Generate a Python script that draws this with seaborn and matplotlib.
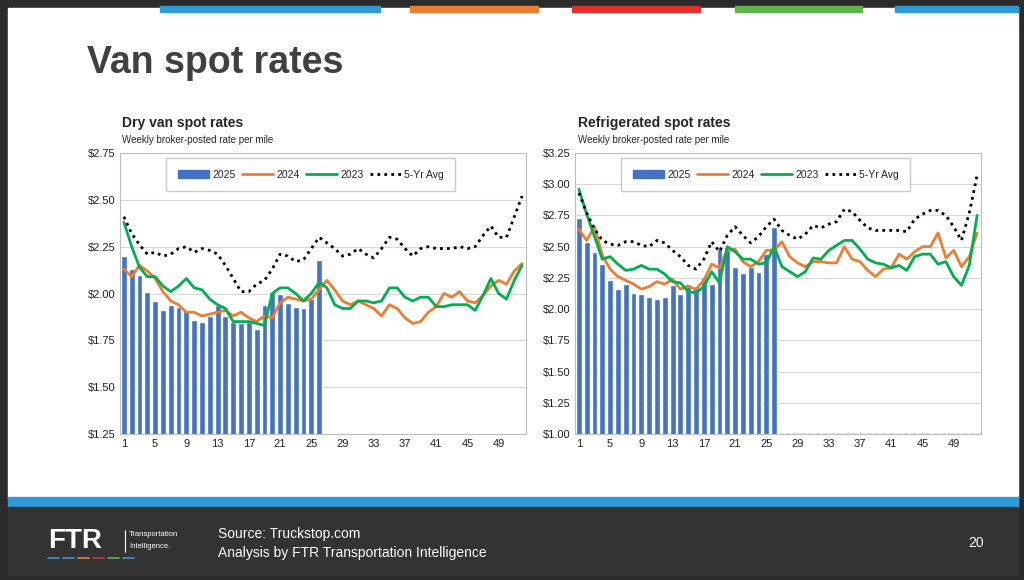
import numpy as np
import pandas as pd
import matplotlib
matplotlib.use("Agg")
import matplotlib.pyplot as plt
import seaborn as sns
from matplotlib.patches import Rectangle
from matplotlib.lines import Line2D
from matplotlib.ticker import FuncFormatter

weeks = list(range(1, 53))
tick_weeks = list(range(1, 53, 4))

# Dry van
dry_2025 = [2.20, 2.13, 2.10, 2.01, 1.96, 1.91, 1.94, 1.93, 1.91, 1.86, 1.85, 1.88, 1.94,
            1.88, 1.85, 1.84, 1.85, 1.81, 1.94, 2.01, 2.00, 1.95, 1.93, 1.92, 1.97, 2.18]
dry_2024 = [2.13, 2.09, 2.15, 2.12, 2.08, 2.01, 1.96, 1.94, 1.90, 1.90, 1.88, 1.89, 1.90,
            1.91, 1.88, 1.90, 1.87, 1.85, 1.88, 1.87, 1.95, 1.98, 1.97, 1.96, 1.97, 2.02,
            2.07, 2.02, 1.96, 1.94, 1.96, 1.94, 1.92, 1.88, 1.94, 1.92, 1.87, 1.84, 1.85,
            1.90, 1.93, 2.00, 1.98, 2.01, 1.96, 1.95, 1.99, 2.04, 2.07, 2.05, 2.12, 2.16]
dry_2023 = [2.38, 2.25, 2.14, 2.09, 2.09, 2.04, 2.01, 2.04, 2.08, 2.03, 2.02, 1.97, 1.94,
            1.92, 1.85, 1.85, 1.85, 1.84, 1.83, 2.00, 2.03, 2.03, 2.00, 1.96, 2.00, 2.06,
            2.03, 1.94, 1.92, 1.92, 1.96, 1.96, 1.95, 1.96, 2.03, 2.03, 1.98, 1.96, 1.98,
            1.98, 1.93, 1.93, 1.94, 1.94, 1.94, 1.91, 1.99, 2.08, 2.00, 1.97, 2.07, 2.15]
dry_5yr = [2.41, 2.32, 2.26, 2.21, 2.22, 2.20, 2.21, 2.24, 2.25, 2.22, 2.24, 2.23, 2.21,
           2.15, 2.08, 2.01, 2.01, 2.05, 2.07, 2.13, 2.21, 2.20, 2.17, 2.18, 2.24, 2.30,
           2.27, 2.24, 2.20, 2.21, 2.24, 2.21, 2.19, 2.24, 2.30, 2.29, 2.24, 2.20, 2.24,
           2.25, 2.24, 2.24, 2.24, 2.25, 2.24, 2.25, 2.31, 2.36, 2.30, 2.30, 2.41, 2.52]

# Refrigerated
ref_2025 = [2.73, 2.54, 2.46, 2.36, 2.23, 2.16, 2.20, 2.13, 2.12, 2.10, 2.08, 2.10, 2.19,
            2.12, 2.20, 2.18, 2.26, 2.20, 2.48, 2.50, 2.34, 2.29, 2.34, 2.30, 2.44, 2.66]
ref_2024 = [2.64, 2.55, 2.66, 2.43, 2.32, 2.26, 2.23, 2.20, 2.16, 2.18, 2.22, 2.20, 2.24,
            2.16, 2.18, 2.16, 2.23, 2.36, 2.33, 2.47, 2.48, 2.38, 2.34, 2.38, 2.47, 2.47,
            2.54, 2.42, 2.37, 2.34, 2.38, 2.38, 2.37, 2.37, 2.50, 2.40, 2.38, 2.31, 2.26,
            2.32, 2.33, 2.44, 2.40, 2.46, 2.50, 2.50, 2.61, 2.41, 2.47, 2.34, 2.42, 2.61]
ref_2023 = [2.96, 2.76, 2.58, 2.40, 2.42, 2.36, 2.31, 2.32, 2.35, 2.32, 2.32, 2.28, 2.22,
            2.21, 2.14, 2.13, 2.18, 2.30, 2.21, 2.50, 2.46, 2.40, 2.40, 2.36, 2.37, 2.50,
            2.34, 2.30, 2.26, 2.30, 2.41, 2.40, 2.47, 2.51, 2.55, 2.55, 2.48, 2.40, 2.37,
            2.36, 2.33, 2.35, 2.31, 2.42, 2.44, 2.44, 2.36, 2.38, 2.26, 2.19, 2.35, 2.75]
ref_5yr = [2.93, 2.77, 2.64, 2.55, 2.52, 2.51, 2.54, 2.54, 2.51, 2.50, 2.55, 2.53, 2.47,
           2.42, 2.35, 2.32, 2.40, 2.54, 2.46, 2.59, 2.66, 2.59, 2.53, 2.58, 2.66, 2.72,
           2.63, 2.59, 2.56, 2.60, 2.67, 2.65, 2.68, 2.70, 2.80, 2.78, 2.71, 2.65, 2.63,
           2.63, 2.63, 2.63, 2.62, 2.72, 2.76, 2.79, 2.79, 2.75, 2.66, 2.55, 2.77, 3.07]

sns.set_style("white")
plt.rcParams['font.family'] = ['Liberation Sans', 'DejaVu Sans']

W, H = 1024, 580
fig = plt.figure(figsize=(W / 100, H / 100), dpi=100)
fig.patch.set_facecolor("#2b2b2b")

def px(x0, y0, x1, y1):
    return [x0 / W, 1 - y1 / H, (x1 - x0) / W, (y1 - y0) / H]

bg = fig.add_axes([0, 0, 1, 1]); bg.axis("off")
bg.set_xlim(0, W); bg.set_ylim(H, 0)
bg.add_patch(Rectangle((8, 8), 1010, 490, color="white"))
for x0, x1, c in [(160, 380, "#2e9bd6"), (410, 538, "#ed7d31"), (572, 700, "#e0302a"),
                  (735, 862, "#5cb44a"), (895, 1018, "#2e9bd6")]:
    bg.add_patch(Rectangle((x0, 6), x1 - x0, 6, color=c))
bg.add_patch(Rectangle((8, 497), 1010, 10, color="#2e9bd6"))
bg.add_patch(Rectangle((8, 507), 1010, 68, color="#333333"))
bg.text(87, 63, "Van spot rates", fontsize=27, fontweight="bold", color="#404040", va="center")
bg.text(48, 541, "FTR", fontsize=20, fontweight="bold", color="white", va="center")
bg.plot([125, 125], [530, 552], color="white", lw=0.8)
bg.text(129, 535, "Transportation", fontsize=5.5, color="white", va="center")
bg.text(129, 546, "Intelligence.", fontsize=5.5, color="white", va="center")
for i, c in enumerate(["#2e9bd6", "#2e9bd6", "#ed7d31", "#e0302a", "#5cb44a", "#2e9bd6"]):
    bg.plot([48 + i * 15, 59 + i * 15], [558, 558], color=c, lw=1.2)
bg.text(218, 534, "Source: Truckstop.com", fontsize=10, color="white", va="center")
bg.text(218, 553, "Analysis by FTR Transportation Intelligence", fontsize=10, color="white", va="center")
bg.text(968, 543, "20", fontsize=10, color="white", va="center")

def panel(box, title, title_xy, bars, s24, s23, s5, ylim, dashed_base=False):
    ax = fig.add_axes(px(*box))
    sns.barplot(x=weeks[:len(bars)], y=bars, native_scale=True, color="#4472c4",
                width=0.75, ax=ax, saturation=1)
    sns.lineplot(x=weeks, y=s24, color="#ed7d31", lw=2, ax=ax)
    sns.lineplot(x=weeks, y=s23, color="#00b050", lw=2, ax=ax)
    sns.lineplot(x=weeks, y=s5, color="black", lw=2, ax=ax, linestyle=(0, (1, 1.5)))
    if dashed_base:
        ax.plot([len(bars) + 0.5, 52.5], [ylim[0], ylim[0]], color="#4472c4", lw=1, ls="--")
    ax.set_xlim(0.5, 52.5)
    ax.set_ylim(*ylim)
    ax.set_yticks(np.arange(ylim[0], ylim[1] + 0.01, 0.25))
    ax.yaxis.set_major_formatter(FuncFormatter(lambda v, p: f"${v:.2f}"))
    ax.set_xticks(tick_weeks)
    ax.tick_params(labelsize=8, length=0, labelcolor="#222222")
    ax.grid(axis="y", color="#d9d9d9", lw=0.8)
    ax.set_axisbelow(True)
    for s in ax.spines.values():
        s.set_color("#bfbfbf"); s.set_linewidth(0.8)
    handles = [Rectangle((0, 0), 1, 1, color="#4472c4"),
               Line2D([], [], color="#ed7d31", lw=2),
               Line2D([], [], color="black", lw=0) if False else Line2D([], [], color="#00b050", lw=2),
               Line2D([], [], color="black", lw=2, linestyle=(0, (1, 1.5)))]
    leg = ax.legend(handles, ["2025", "2024", "2023", "5-Yr Avg"], ncol=4, fontsize=7.5,
                    loc="upper center", bbox_to_anchor=(0.47, 1.0), frameon=True,
                    fancybox=False, handlelength=3, columnspacing=0.6, handletextpad=0.3,
                    borderpad=1.1)
    leg.get_frame().set_edgecolor("#bfbfbf")
    bg.text(title_xy[0], title_xy[1], title, fontsize=10, fontweight="bold", va="center")
    bg.text(title_xy[0], title_xy[1] + 17, "Weekly broker-posted rate per mile", fontsize=7, va="center")

panel((120, 153, 526, 434), "Dry van spot rates", (122, 123),
      dry_2025, dry_2024, dry_2023, dry_5yr, (1.25, 2.75))
panel((575, 153, 981, 434), "Refrigerated spot rates", (578, 123),
      ref_2025, ref_2024, ref_2023, ref_5yr, (1.00, 3.25), dashed_base=True)

fig.savefig("out.png", dpi=100, facecolor=fig.get_facecolor())
